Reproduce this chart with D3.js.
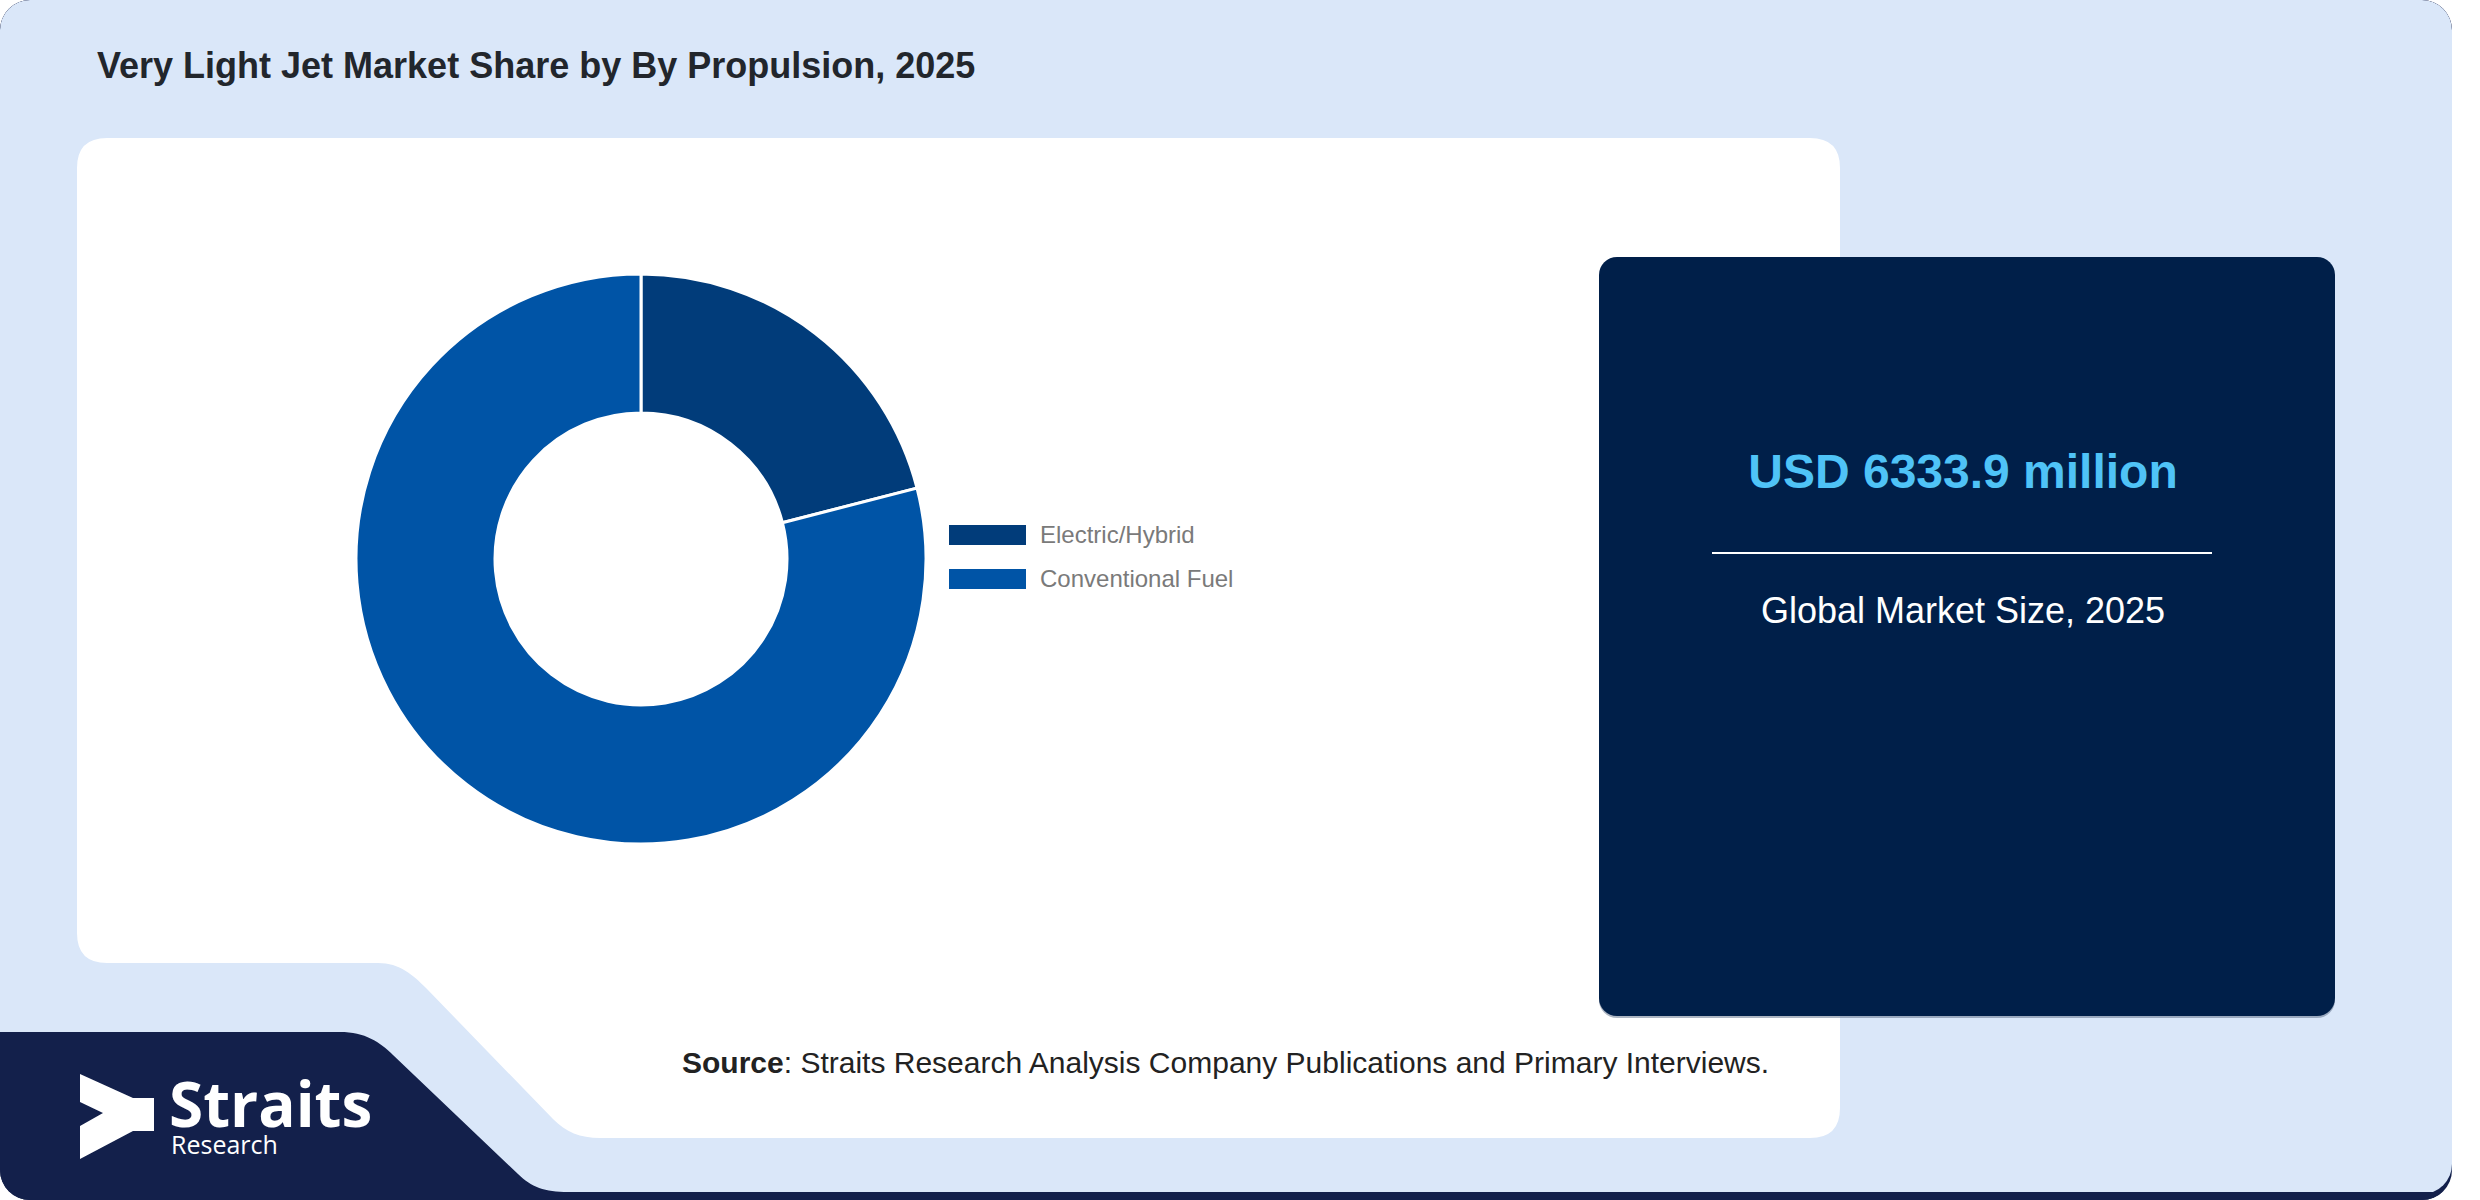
<!DOCTYPE html>
<html>
<head>
<meta charset="utf-8">
<script src="https://cdn.jsdelivr.net/npm/d3@7"></script>
<style>
  body { margin: 0; background: #fff; }
  svg { display: block; font-family: "Liberation Sans", Arial, sans-serif; }
</style>
</head>
<body>
<div id="chart"></div>
<script>
// Chart data
const segments = ["Electric/Hybrid", "Conventional Fuel"];
const shares = [21.0, 79.0];
const segmentColors = ["#013c7a", "#0054a6"];

const title = "Very Light Jet Market Share by By Propulsion, 2025";
const marketValue = "USD 6333.9 million";
const marketLabel = "Global Market Size, 2025";

const width = 2480;
const height = 1200;

const svg = d3.select("#chart")
              .append("svg")
              .attr("width", width)
              .attr("height", height);

// Clip everything to the rounded card
svg.append("defs").append("clipPath")
   .attr("id", "card")
   .append("rect")
   .attr("width", 2452)
   .attr("height", 1200)
   .attr("rx", 30)
   .attr("ry", 30);

const card = svg.append("g").attr("clip-path", "url(#card)");

// Dark strip under the card, then the light blue card
card.append("rect")
    .attr("width", 2452)
    .attr("height", 1200)
    .attr("fill", "#13204b");

card.append("rect")
    .attr("width", 2452)
    .attr("height", 1194)
    .attr("rx", 30)
    .attr("ry", 30)
    .attr("fill", "#dae7f9");

// Navy logo block bottom-left
card.append("path")
    .attr("d", "M0,1032 H340 C365,1032 380,1042 393,1055 L518,1174 C531,1187 545,1192 568,1192 H2452 V1200 H0 Z")
    .attr("fill", "#13204b");

// White chart panel with the cut corner
card.append("path")
    .attr("d", "M107,138 H1810 Q1840,138 1840,168 V1108 Q1840,1138 1810,1138 H600 C580,1138 566,1132 553,1119 L426,988 C413,975 400,963 378,963 H107 Q77,963 77,933 V168 Q77,138 107,138 Z")
    .attr("fill", "#ffffff");

// Title
card.append("text")
    .attr("x", 97)
    .attr("y", 78)
    .style("font-size", "36px")
    .style("font-weight", "bold")
    .style("fill", "#22262c")
    .text(title);

// Donut
const cx = 641, cy = 559;
const pie = d3.pie().sort(null).value(d => d)(shares);
const arc = d3.arc().innerRadius(146).outerRadius(285);

card.append("g")
    .attr("transform", `translate(${cx},${cy})`)
    .selectAll("path")
    .data(pie)
    .enter()
    .append("path")
    .attr("d", arc)
    .attr("fill", (d, i) => segmentColors[i])
    .attr("stroke", "#ffffff")
    .attr("stroke-width", 3);

// Legend
const legend = card.append("g")
                   .attr("transform", "translate(949, 525)");

legend.selectAll("g")
      .data(segments)
      .enter()
      .append("g")
      .attr("transform", (d, i) => `translate(0, ${i * 44})`)
      .each(function(d, i) {
        d3.select(this).append("rect")
          .attr("width", 77)
          .attr("height", 20)
          .attr("fill", segmentColors[i]);
        d3.select(this).append("text")
          .attr("x", 91)
          .attr("y", 18)
          .style("font-size", "24px")
          .style("fill", "#7a7a7a")
          .text(d);
      });

// Market size box
const boxX = 1599, boxY = 257, boxW = 736, boxH = 759;
const boxCx = boxX + boxW / 2 - 4;

card.append("rect")
    .attr("x", boxX)
    .attr("y", boxY + 2)
    .attr("width", boxW)
    .attr("height", boxH)
    .attr("rx", 18)
    .attr("fill", "#5a6b85")
    .attr("opacity", 0.5);

card.append("rect")
    .attr("x", boxX)
    .attr("y", boxY)
    .attr("width", boxW)
    .attr("height", boxH)
    .attr("rx", 18)
    .attr("fill", "#001f49");

card.append("text")
    .attr("x", boxCx)
    .attr("y", 488)
    .attr("text-anchor", "middle")
    .style("font-size", "48px")
    .style("font-weight", "bold")
    .style("fill", "#4fc3f7")
    .text(marketValue);

card.append("line")
    .attr("x1", 1712)
    .attr("x2", 2212)
    .attr("y1", 553)
    .attr("y2", 553)
    .attr("stroke", "#ffffff")
    .attr("stroke-width", 2);

card.append("text")
    .attr("x", boxCx)
    .attr("y", 623)
    .attr("text-anchor", "middle")
    .style("font-size", "36px")
    .style("fill", "#ffffff")
    .text(marketLabel);

// Source line
const source = card.append("text")
                   .attr("x", 682)
                   .attr("y", 1073)
                   .style("font-size", "30px")
                   .style("fill", "#222222");
source.append("tspan").style("font-weight", "bold").text("Source");
source.append("tspan").text(": Straits Research Analysis Company Publications and Primary Interviews.");

// Logo
const logo = card.append("g");
logo.append("path")
    .attr("d", "M80,1074 L133,1098 H154 V1131 H133 L80,1159 V1126 L103,1113 L80,1102 Z")
    .attr("fill", "#ffffff");

logo.append("text")
    .attr("x", 169)
    .attr("y", 1127)
    .style("font-family", "'Open Sans', sans-serif")
    .style("font-size", "62px")
    .style("font-weight", "bold")
    .style("fill", "#ffffff")
    .text("Straits");

logo.append("text")
    .attr("x", 171)
    .attr("y", 1154)
    .style("font-family", "'Open Sans', sans-serif")
    .style("font-size", "25px")
    .style("fill", "#ffffff")
    .text("Research");
</script>
</body>
</html>
